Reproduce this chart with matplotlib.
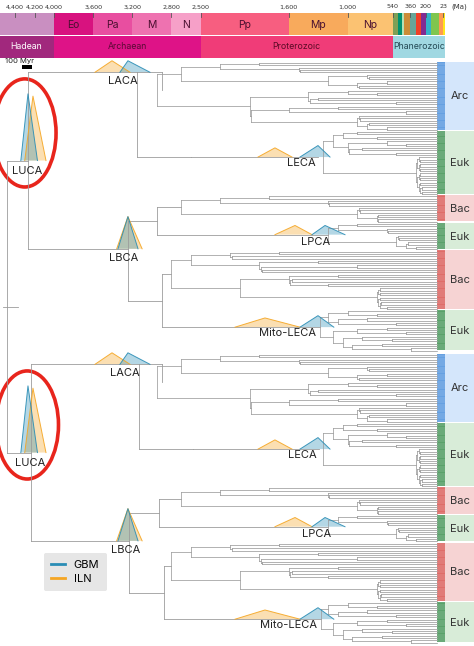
import matplotlib
matplotlib.use("Agg")
import matplotlib.pyplot as plt
from matplotlib.patches import Rectangle, Polygon, Ellipse
from matplotlib.lines import Line2D

plt.rcParams['font.family'] = ['Inter', 'DejaVu Sans']

# ---------------- data ----------------
eras_top = [("", 4567, 4000, "#c98fc1"), ("Eo", 4000, 3600, "#d8127f"), ("Pa", 3600, 3200, "#e84ea0"),
            ("M", 3200, 2800, "#ee72b0"), ("N", 2800, 2500, "#f6a0c8"), ("Pp", 2500, 1600, "#f75e80"),
            ("Mp", 1600, 1000, "#f8aa5c"), ("Np", 1000, 540, "#fbc272")]
periods = [(540, 485, "#7fa056"), (485, 443, "#009270"), (443, 419, "#b3e1b6"), (419, 359, "#cb8c37"),
           (359, 299, "#67a599"), (299, 252, "#f04028"), (252, 201, "#812b92"), (201, 145, "#34b2c9"),
           (145, 66, "#7fc64e"), (66, 23, "#fd9a52"), (23, 0, "#ffe619")]
eons = [("Hadean", 4567, 4000, "#a1287d", "white"), ("Archaean", 4000, 2500, "#de1387", "#5a0a35"),
        ("Proterozoic", 2500, 540, "#f03c78", "#5a0a25"), ("Phanerozoic", 540, 0, "#a0d8e2", "#244a55")]
tick_ages = [4400, 4200, 4000, 3600, 3200, 2800, 2500, 1600, 1000, 540, 360, 200, 23]
tick_labels = ["4,400", "4,200", "4,000", "3,600", "3,200", "2,800", "2,500", "1,600", "1,000", "540", "360", "200", "23"]

tip_age = 85
arc_ages = [2950, 2700, 2300, 1900, 1500, 2100, 1200, 800, 1700, 900, 600, 2500, 2000, 1400, 1000,
            700, 1800, 1300, 500, 2200, 1600, 1100, 400, 900, 2400, 1500, 800, 1200, 600]
euk_ages = [1250, 1150, 1050, 900, 700, 1000, 600, 400, 1100, 850, 500, 300, 950, 750, 450, 1080,
            800, 650, 350, 1000, 700, 400, 900, 600, 300, 500, 250]
bac1_ages = [2700, 2300, 1800, 1200, 2000, 900, 2500, 1500, 700, 1900, 1000]
plast_ages = [1200, 1100, 900, 600, 1000, 500, 1050, 800, 400, 700, 300]
bac2_ages = [2800, 2600, 2200, 1700, 2400, 1900, 1300, 2000, 900, 2500, 2100, 1600, 1100, 2300,
             1800, 1200, 700, 1500, 2200, 1400, 800, 1900, 1000, 1300, 600]
mito_ages = [1300, 1200, 1000, 700, 1100, 800, 500, 1150, 900, 600, 400, 1050, 850, 550, 950, 650, 350]

# major node ages per tree: LUCA, LACA, Asgard-euk, LECA, LBCA, B1, LPCA, B2, Mito-LECA
major_top = [4265, 3150, 2600, 1300, 3245, 2950, 1230, 2900, 1300]
major_bot = [4240, 3130, 2580, 1290, 3230, 2930, 1220, 2880, 1290]
root_age = 4480

clades = [("Arc", 30, arc_ages, "#4a8fdc", "#d4e6fb"), ("Euk", 28, euk_ages, "#3d9150", "#d8ecd8"),
          ("Bac", 12, bac1_ages, "#d9534f", "#f6d3d3"), ("Euk", 12, plast_ages, "#3d9150", "#d8ecd8"),
          ("Bac", 26, bac2_ages, "#d9534f", "#f6d3d3"), ("Euk", 18, mito_ages, "#3d9150", "#d8ecd8")]

# densities: name -> (left, peak, right, height) for GBM and ILN
dens = {"LUCA": ((4340, 4267, 4170, 29), (4300, 4216, 4083, 28)),
        "LACA": ((3327, 3245, 3020, 5), (3582, 3408, 3224, 5)),
        "LECA": ((1486, 1302, 1179, 5), (1915, 1742, 1568, 4)),
        "LBCA": ((3347, 3245, 3142, 14), (3360, 3245, 3100, 14)),
        "LPCA": ((1363, 1230, 1026, 4), (1742, 1537, 1363, 4)),
        "Mito-LECA": ((1486, 1302, 1140, 5), (2150, 1844, 1486, 4))}

GBM_C, ILN_C = "#2a8db5", "#f5a623"
LINE = "#9c9c9c"

# ---------------- figure ----------------
W, H = 474, 646
fig = plt.figure(figsize=(W / 100, H / 100), dpi=100)
XL = (4553, -293)

# timescale
ts = fig.add_axes([0, 1 - 58 / H, 1, 58 / H])
ts.set_xlim(*XL); ts.set_ylim(58, 0); ts.axis("off")
for lab, a, b, c in eras_top:
    ts.add_patch(Rectangle((b, 13), a - b, 22, color=c, lw=0))
    if lab:
        ts.text((a + b) / 2, 24.5, lab, ha="center", va="center", fontsize=7.5, color="#4a1030")
for a, b, c in periods:
    ts.add_patch(Rectangle((b, 13), a - b, 22, color=c, lw=0))
for lab, a, b, c, tc in eons:
    ts.add_patch(Rectangle((b, 35.5), a - b, 22, color=c, lw=0))
    ts.text((a + b) / 2, 46.5, lab, ha="center", va="center", fontsize=6.3, color=tc)
for t, l in zip(tick_ages, tick_labels):
    ts.text(t, 7, l, ha="center", va="center", fontsize=4.6, color="#333333",
            family=["Liberation Sans Narrow", "DejaVu Sans"])
    ts.plot([t, t], [13, 17], color="#555555", lw=0.6)
ts.text(-60, 7, "(Ma)", ha="left", va="center", fontsize=5, color="#333333",
        family=["Liberation Sans Narrow", "DejaVu Sans"])

# tree axes
ax = fig.add_axes([0, 0, 1, 588 / H])
ax.set_xlim(*XL)
ax.axis("off")


def build(start, n, ages, parent_age):
    """returns (y, age) of clade root; draws lines."""
    if n == 1:
        return start, tip_age
    age = min(ages[0], parent_age - 15)
    k = max(1, int(round(n * 0.4)))
    y1, a1 = build(start, k, ages[1:k], age)
    y2, a2 = build(start + k, n - k, ages[k:], age)
    ax.plot([age, a1], [y1, y1], color=LINE, lw=0.55)
    ax.plot([age, a2], [y2, y2], color=LINE, lw=0.55)
    ax.plot([age, age], [y1, y2], color=LINE, lw=0.55)
    return (y1 + y2) / 2, age


def join(age, c1, c2, frac=0.5):
    (y1, a1), (y2, a2) = c1, c2
    ax.plot([age, a1], [y1, y1], color=LINE, lw=0.6)
    ax.plot([age, a2], [y2, y2], color=LINE, lw=0.6)
    ax.plot([age, age], [y1, y2], color=LINE, lw=0.6)
    return y1 + frac * (y2 - y1), age


def density(name, y):
    g, i = dens[name]
    for (l, p, r, h), c in ((i, ILN_C), (g, GBM_C)):
        ax.add_patch(Polygon([(l, y), (p, y - h), (r, y)], closed=True, fc=c, ec=c, alpha=0.35, lw=0))
        ax.plot([l, p, r], [y, y - h, y], color=c, lw=0.7, alpha=0.9)


def tree(offset, m):
    luca, laca, asg, leca, lbca, b1, lpca, b2, mleca = m
    s = offset
    ys = []
    for lab, n, ages, c, lc in clades:
        ys.append((s, n))
        s += n

    def cl(i, top):
        st, n = ys[i]
        return build(st, n, clades[i][2], top)
    arc = cl(0, laca)
    euk = cl(1, leca + 1)
    ax.plot([asg, leca], [euk[0], euk[0]], color=LINE, lw=0.6)
    # LACA drawn near the top of the archaeal clade
    arc_top = (offset + 4, 2900)
    ax.plot([2900, 2900], [arc_top[0], arc[0]], color=LINE, lw=0.6)
    A = join(laca, arc_top, (euk[0], asg), frac=0.0)
    bac1 = cl(2, b1)
    pl = cl(3, lpca + 1)
    B1 = join(b1, bac1, pl)
    bac2 = cl(4, b2)
    mi = cl(5, mleca + 1)
    B2 = join(b2, bac2, mi)
    B = join(lbca, B1, B2, frac=0.35)
    L = join(luca, A, B)
    # densities and labels
    density("LUCA", L[0]); density("LACA", A[0]); density("LBCA", B[0])
    density("LECA", euk[0]); density("LPCA", pl[0]); density("Mito-LECA", mi[0])
    fs = 8
    ax.text(luca + 10, L[0] + 2.5, "LUCA", ha="center", va="top", fontsize=fs, color="#222222")
    ax.text(laca + 150, A[0] + 1.5, "LACA", ha="center", va="top", fontsize=fs, color="#222222")
    ax.text(lbca + 40, B[0] + 2, "LBCA", ha="center", va="top", fontsize=fs, color="#222222")
    ax.text(leca + 30, euk[0] + 0.5, "LECA", ha="right", va="top", fontsize=fs, color="#222222")
    ax.text(lpca + 100, pl[0] + 1, "LPCA", ha="center", va="top", fontsize=fs, color="#222222")
    ax.text(mleca + 20, mi[0] + 0.5, "Mito-LECA", ha="right", va="top", fontsize=fs, color="#222222")
    ax.add_patch(Ellipse((luca + 35, L[0] - 12), 640, 47, fill=False, ec="#e8251c", lw=2.6))
    # clade bands
    for (st, n), (lab, _, _, c, lc) in zip(ys, clades):
        ax.add_patch(Rectangle((0, st - 0.5), -300, n - 0.6, color=lc, lw=0))
        ax.add_patch(Rectangle((tip_age, st - 0.5), -tip_age + 3, n - 0.6, color=c, lw=0, alpha=0.85))
        for j in range(n):
            ax.plot([tip_age, 3], [st + j + 0.5, st + j + 0.5], color="white", lw=0.25, alpha=0.6)
        ax.text(-150, st + n / 2 - 0.5, lab, ha="center", va="center", fontsize=8, color="#333333")
    return L


N = sum(c[1] for c in clades)
L1 = tree(0, major_top)
L2 = tree(N + 1, major_bot)
ax.plot([root_age, L1[1]], [L1[0], L1[0]], color=LINE, lw=0.6)
ax.plot([root_age, L2[1]], [L2[0], L2[0]], color=LINE, lw=0.6)
ax.plot([root_age, root_age], [L1[0], L2[0]], color=LINE, lw=0.6)
ax.plot([root_age + 40, root_age - 110], [(L1[0] + L2[0]) / 2] * 2, color=LINE, lw=0.6)
ax.set_ylim(2 * N + 1.5, -2.2)

# scale bar
fig.text(5 / W, 1 - 61 / H, "100 Myr", fontsize=5.5, va="center", color="#222222")
ts2 = fig.add_axes([0, 1 - 70 / H, 1, 6 / H]); ts2.set_xlim(*XL); ts2.set_ylim(0, 1); ts2.axis("off")
ts2.add_patch(Rectangle((4330, 0.1), -100, 0.8, color="black", lw=0))

handles = [Line2D([], [], color=GBM_C, lw=2), Line2D([], [], color=ILN_C, lw=2)]
leg = fig.legend(handles, ["GBM", "ILN"], loc="upper left", bbox_to_anchor=(38 / W, 1 - 547 / H),
                 frameon=True, fontsize=8, handlelength=1.2, borderpad=0.7, labelspacing=0.3)
leg.get_frame().set_facecolor("#e6e6e6"); leg.get_frame().set_edgecolor("none"); leg.get_frame().set_alpha(1)

fig.savefig("out.png", dpi=100)
